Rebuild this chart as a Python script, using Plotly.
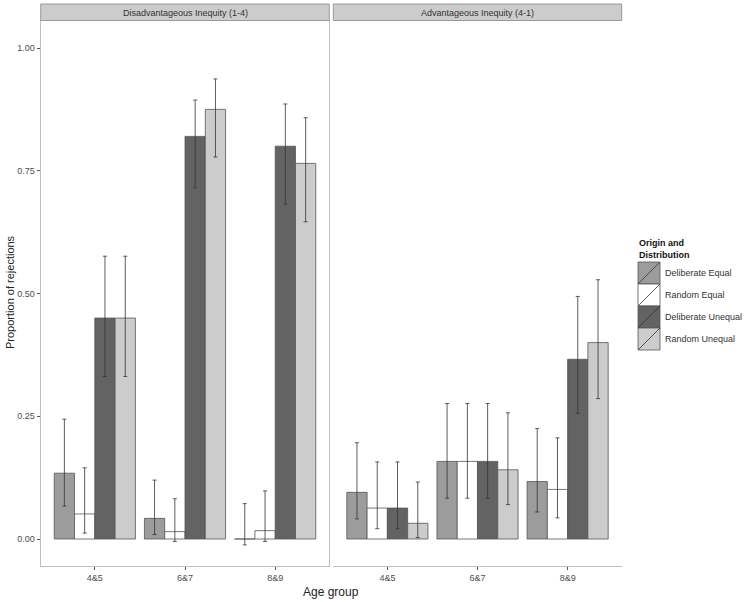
import plotly.graph_objects as go

# Age groups and conditions
age_groups = ["4&5", "6&7", "8&9"]
conditions = ["Deliberate Equal", "Random Equal", "Deliberate Unequal", "Random Unequal"]

# Disadvantageous inequity (1-4): one row per condition, one value per age group
dis_mean = [[0.134, 0.042, 0.0], [0.051, 0.015, 0.017], [0.45, 0.82, 0.80], [0.45, 0.875, 0.765]]
dis_lo = [[0.067, 0.009, -0.012], [0.012, -0.005, -0.005], [0.331, 0.715, 0.682], [0.331, 0.778, 0.646]]
dis_hi = [[0.244, 0.12, 0.072], [0.145, 0.082, 0.098], [0.576, 0.894, 0.886], [0.576, 0.937, 0.858]]

# Advantageous inequity (4-1)
adv_mean = [[0.095, 0.158, 0.117], [0.063, 0.158, 0.101], [0.063, 0.158, 0.366], [0.032, 0.141, 0.40]]
adv_lo = [[0.041, 0.083, 0.055], [0.021, 0.083, 0.043], [0.021, 0.083, 0.256], [0.003, 0.07, 0.286]]
adv_hi = [[0.196, 0.276, 0.225], [0.157, 0.276, 0.206], [0.157, 0.276, 0.494], [0.116, 0.257, 0.528]]

panel_titles = ["Disadvantageous Inequity (1-4)", "Advantageous Inequity (4-1)"]
fills = ["#9c9c9c", "#ffffff", "#636363", "#cccccc"]

W, H = 745, 602
FONT = "Liberation Sans, Arial, sans-serif"


def px_x(v):
    return v / W


def px_y(v):
    return 1 - v / H


# panel geometry in pixels
left_panel = (40.7, 329.3)
right_panel = (333.3, 621.7)
panel_top, panel_bottom = 21, 566

fig = go.Figure()

for panel, (means, los, his) in enumerate([(dis_mean, dis_lo, dis_hi), (adv_mean, adv_lo, adv_hi)]):
    xa = "x" if panel == 0 else "x2"
    for i, cond in enumerate(conditions):
        m = means[i]
        fig.add_trace(go.Bar(
            x=age_groups, y=m, name=cond, xaxis=xa, yaxis="y",
            marker=dict(color=fills[i], line=dict(color="#555555", width=0.8)),
            error_y=dict(type="data", symmetric=False,
                         array=[h - v for h, v in zip(his[i], m)],
                         arrayminus=[v - l for v, l in zip(m, los[i])],
                         color="#333333", thickness=0.8, width=2),
            offsetgroup=str(i), showlegend=False,
        ))

axis_common = dict(
    type="category", range=[-0.6, 2.6], showgrid=False, zeroline=False,
    showline=True, mirror=True, linecolor="#c0c0c0", linewidth=1,
    ticks="outside", ticklen=3, tickcolor="#555555",
    tickfont=dict(family=FONT, size=9, color="#4d4d4d"),
)

fig.update_layout(
    width=W, height=H,
    margin=dict(l=0, r=0, t=0, b=0),
    paper_bgcolor="white", plot_bgcolor="white",
    barmode="group", bargap=0.1, bargroupgap=0,
    showlegend=False,
    xaxis=dict(domain=[px_x(left_panel[0]), px_x(left_panel[1])], anchor="y", **axis_common),
    xaxis2=dict(domain=[px_x(right_panel[0]), px_x(right_panel[1])], anchor="y2", **axis_common),
    yaxis=dict(domain=[px_y(panel_bottom), px_y(panel_top)], range=[-0.055, 1.055],
               tickvals=[0, 0.25, 0.5, 0.75, 1.0], ticktext=["0.00", "0.25", "0.50", "0.75", "1.00"],
               showgrid=False, zeroline=False, showline=True, mirror=True,
               linecolor="#c0c0c0", linewidth=1, ticks="outside", ticklen=3, tickcolor="#555555",
               tickfont=dict(family=FONT, size=9, color="#4d4d4d")),
    yaxis2=dict(domain=[px_y(panel_bottom), px_y(panel_top)], matches="y", anchor="x2",
                showticklabels=False, ticks="", showgrid=False, zeroline=False,
                showline=True, mirror=True, linecolor="#c0c0c0", linewidth=1),
)

shapes = []
annotations = []

# facet strips
for (x0, x1), title in zip([left_panel, right_panel], panel_titles):
    shapes.append(dict(type="rect", xref="paper", yref="paper",
                       x0=px_x(x0), x1=px_x(x1), y0=px_y(20.5), y1=px_y(4),
                       fillcolor="#cccccc", line=dict(color="#9a9a9a", width=1)))
    annotations.append(dict(xref="paper", yref="paper", x=px_x((x0 + x1) / 2), y=px_y(12.5),
                            text=title, showarrow=False, xanchor="center", yanchor="middle",
                            font=dict(family=FONT, size=9, color="#333333")))

# axis titles
annotations.append(dict(xref="paper", yref="paper", x=px_x(331), y=px_y(592),
                        text="Age group", showarrow=False, xanchor="center", yanchor="middle",
                        font=dict(family=FONT, size=12, color="#222222")))
annotations.append(dict(xref="paper", yref="paper", x=px_x(10), y=px_y(292),
                        text="Proportion of rejections", showarrow=False, textangle=-90,
                        xanchor="center", yanchor="middle",
                        font=dict(family=FONT, size=11, color="#222222")))

# legend drawn by hand (ggplot style keys)
key_x0, key_x1 = 638, 660
key_top, key_h = 262, 22
annotations.append(dict(xref="paper", yref="paper", x=px_x(637), y=px_y(236),
                        text="<b>Origin and<br>Distribution</b>", showarrow=False,
                        xanchor="left", yanchor="top", align="left",
                        font=dict(family=FONT, size=9, color="#111111")))
for i, cond in enumerate(conditions):
    y0 = key_top + i * key_h
    y1 = y0 + key_h
    shapes.append(dict(type="rect", xref="paper", yref="paper",
                       x0=px_x(key_x0), x1=px_x(key_x1), y0=px_y(y1), y1=px_y(y0),
                       fillcolor=fills[i], line=dict(color="#555555", width=0.8)))
    shapes.append(dict(type="line", xref="paper", yref="paper",
                       x0=px_x(key_x0), x1=px_x(key_x1), y0=px_y(y1), y1=px_y(y0),
                       line=dict(color="#333333", width=0.8)))
    annotations.append(dict(xref="paper", yref="paper", x=px_x(key_x1 + 3), y=px_y((y0 + y1) / 2),
                            text=cond, showarrow=False, xanchor="left", yanchor="middle",
                            font=dict(family=FONT, size=9, color="#333333")))

fig.update_layout(shapes=shapes, annotations=annotations)

# drop the default page margin so the figure sits at the window's top-left corner
fig.write_html("out.html", config={"displayModeBar": False},
               post_script="document.body.style.margin='0';")
